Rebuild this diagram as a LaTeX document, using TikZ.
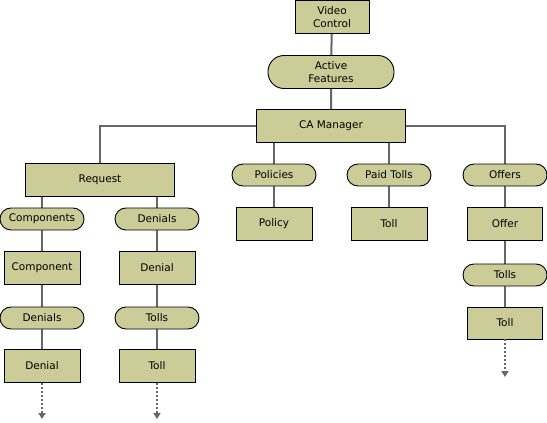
\documentclass[tikz,border=0pt]{standalone}
\usepackage{fontspec}
\setmainfont{DejaVu Sans}
\usetikzlibrary{arrows.meta,backgrounds}
\definecolor{boxfill}{HTML}{CCCC99}
\definecolor{linkgray}{HTML}{666666}

\begin{document}
\begin{tikzpicture}[x=1pt,y=-1pt,font=\fontsize{10.5}{13}\selectfont,
  box/.style={draw=black,fill=boxfill,line width=0.9pt,inner sep=0pt,align=center,
    minimum width=76pt,minimum height=33pt},
  pill/.style={box,rounded corners=11pt,minimum width=84pt,minimum height=22pt},
  link/.style={draw=linkgray,line width=2pt},
  more/.style={link,dash pattern=on 2pt off 2pt,-{Triangle[width=7pt,length=6pt]}}]
\useasboundingbox (0,0) rectangle (547,423);

% top of the tree
\node[box,minimum width=74pt] (video) at (332,17) {Video\\Control};
\node[pill,minimum width=126pt,minimum height=33pt,rounded corners=16pt] (active) at (331,72) {Active\\Features};
\node[box,minimum width=149pt] (ca) at (331,126) {CA Manager};

% request branch
\node[box,minimum width=149pt] (request) at (100,180) {Request};
\node[pill] (components) at (42,219) {Components};
\node[pill] (reqdenials) at (157,219) {Denials};
\node[box] (component) at (42,268) {Component};
\node[box] (denial) at (157,268) {Denial};
\node[pill] (compdenials) at (42,318) {Denials};
\node[pill] (denialtolls) at (157,318) {Tolls};
\node[box] (compdenial) at (42,366) {Denial};
\node[box] (denialtoll) at (157,366) {Toll};
\coordinate (compmore) at (42,419);
\coordinate (tollmore) at (157,419);

% policies and paid tolls
\node[pill] (policies) at (274,175) {Policies};
\node[box] (policy) at (274,224) {Policy};
\node[pill] (paidtolls) at (389,175) {Paid Tolls};
\node[box] (paidtoll) at (389,224) {Toll};

% offers branch
\node[pill] (offers) at (505,175) {Offers};
\node[box,minimum width=75pt] (offer) at (505,224) {Offer};
\node[pill] (offertolls) at (505,275) {Tolls};
\node[box,minimum width=75pt,minimum height=32pt] (offertoll) at (505,323) {Toll};
\coordinate (offermore) at (505,377);

\begin{scope}[on background layer]
\draw[link] (video) -- (active) -- (ca);
\draw[link] (ca) -| (request);
\draw[link] (ca) -| (policies);
\draw[link] (ca) -| (paidtolls);
\draw[link] (ca) -| (offers);
\draw[link] (components |- request) -- (components) -- (component) -- (compdenials) -- (compdenial);
\draw[link] (reqdenials |- request) -- (reqdenials) -- (denial) -- (denialtolls) -- (denialtoll);
\draw[link] (policies) -- (policy);
\draw[link] (paidtolls) -- (paidtoll);
\draw[link] (offers) -- (offer) -- (offertolls) -- (offertoll);
\end{scope}
\draw[more] (compdenial.south) -- (compmore);
\draw[more] (denialtoll.south) -- (tollmore);
\draw[more] (offertoll.south) -- (offermore);
\end{tikzpicture}
\end{document}
